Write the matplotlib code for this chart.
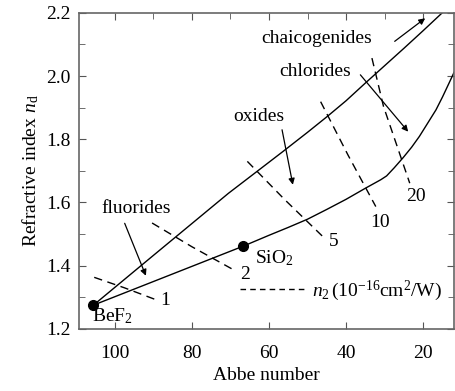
import matplotlib
matplotlib.use('Agg')
import matplotlib.pyplot as plt
from matplotlib.lines import Line2D
from matplotlib.ticker import MultipleLocator

plt.rcParams['font.family'] = 'Liberation Serif'
plt.rcParams['mathtext.fontset'] = 'custom'
plt.rcParams['mathtext.rm'] = 'Liberation Serif'
plt.rcParams['mathtext.it'] = 'Liberation Serif:italic'
plt.rcParams['font.size'] = 14

# upper boundary (BeF2 -> chalcogenides)
upper_x = [105.5, 90, 80, 70.5, 62.8, 56.4, 50, 44.9, 40, 35, 30, 25, 20, 15.1, 12]
upper_y = [1.275, 1.432, 1.533, 1.629, 1.701, 1.761, 1.822, 1.872, 1.922, 1.978, 2.033, 2.088, 2.144, 2.2, 2.236]
# lower boundary (BeF2 -> SiO2 -> ...)
lower_x = [105.5, 66.6, 60, 55, 50, 45, 40, 35, 31, 29.5, 27.5, 25.2, 23, 21, 19, 16.7, 15, 13.3, 12]
lower_y = [1.275, 1.462, 1.496, 1.521, 1.547, 1.578, 1.61, 1.645, 1.672, 1.684, 1.71, 1.742, 1.775, 1.809, 1.848, 1.893, 1.934, 1.978, 2.012]

# n2 contour lines (dashed)
n2_vals = ['1', '2', '5', '10', '20']
n2_x = [[105.3, 97.5, 89.7], [90.3, 80, 69.2], [65.6, 56, 46.2], [46.6, 39.5, 32.3], [33.3, 30.3, 23.5]]
n2_y = [[1.363, 1.33, 1.294], [1.535, 1.46, 1.387], [1.73, 1.61, 1.494], [1.919, 1.75, 1.587], [2.057, 1.904, 1.661]]
n2_lab_x = [87.0, 66.2, 43.2, 31.2, 21.8]
n2_lab_y = [1.29, 1.372, 1.476, 1.535, 1.619]

# points
pt_names = ['BeF$_2$', 'SiO$_2$']
pt_x = [105.5, 66.6]
pt_y = [1.275, 1.462]
pt_lab_x = [100.5, 58.5]
pt_lab_y = [1.239, 1.424]

# class labels with arrows
cls_names = ['chaicogenides', 'chlorides', 'oxides', 'fluorides']
cls_tx = [47.7, 47.9, 62.6, 94.4]
cls_ty = [2.12, 2.014, 1.872, 1.582]
arr_tail_x = [27.4, 36.3, 56.6, 97.4]
arr_tail_y = [2.11, 2.004, 1.83, 1.534]
arr_head_x = [19.5, 23.9, 53.8, 91.9]
arr_head_y = [2.183, 1.824, 1.656, 1.368]

fig = plt.figure(figsize=(4.55, 3.91), dpi=100)
ax = fig.add_axes([0.174, 0.159, 0.824, 0.808])

ax.plot(upper_x, upper_y, color='black', lw=1.0)
ax.plot(lower_x, lower_y, color='black', lw=1.0)
for i in range(len(n2_vals)):
    ax.plot(n2_x[i], n2_y[i], color='black', lw=1.0, dashes=(6, 4))
    ax.text(n2_lab_x[i], n2_lab_y[i], n2_vals[i], ha='center', va='center')

ax.plot(pt_x, pt_y, 'o', color='black', ms=7)
for i in range(len(pt_names)):
    ax.text(pt_lab_x[i], pt_lab_y[i], pt_names[i], ha='center', va='center')

for i in range(len(cls_names)):
    ax.text(cls_tx[i], cls_ty[i], cls_names[i], ha='center', va='center')
    ax.annotate('', xy=(arr_head_x[i], arr_head_y[i]), xytext=(arr_tail_x[i], arr_tail_y[i]),
                arrowprops=dict(arrowstyle='-|>', color='black', lw=0.9,
                                mutation_scale=9, shrinkA=0, shrinkB=0))

h = Line2D([], [], color='black', lw=1.0, dashes=(4, 3))
ax.legend([h], [r'$n_2\,(10^{-16}$cm$^2$/W)'], loc='center left', bbox_to_anchor=(0.43, 0.12),
          frameon=False, handlelength=3.4, handletextpad=0.3, borderpad=0, borderaxespad=0)

ax.set_xlim(109.2, 12)
ax.set_ylim(1.2, 2.2)
ax.xaxis.set_major_locator(MultipleLocator(20))
ax.xaxis.set_minor_locator(MultipleLocator(10))
ax.yaxis.set_major_locator(MultipleLocator(0.2))
ax.yaxis.set_minor_locator(MultipleLocator(0.1))
ax.yaxis.set_major_formatter(matplotlib.ticker.FormatStrFormatter('%.1f'))
ax.tick_params(which='both', direction='in', top=True, right=True, color='#555555')
ax.tick_params(which='minor', bottom=False, length=4)
ax.tick_params(which='major', length=5, pad=6)
ax.tick_params(axis='x', which='major', pad=12)
for s in ax.spines.values():
    s.set_color('#666666')
    s.set_linewidth(1.2)

ax.set_xlabel('Abbe number', labelpad=3)
ax.set_ylabel(r'Refractive index $n_{\rm d}$')

fig.savefig('out.png', dpi=100)
